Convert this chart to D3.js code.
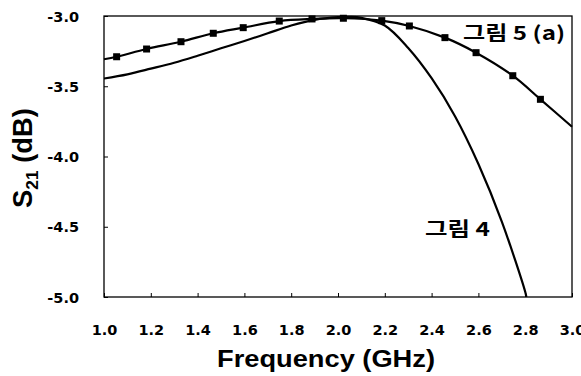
<!DOCTYPE html>
<html>
<head>
<meta charset="utf-8">
<script src="https://cdn.jsdelivr.net/npm/d3@7"></script>
<style>
  html, body { margin: 0; padding: 0; background: #fff; }
  svg { display: block; }
</style>
</head>
<body>
<svg id="chart" width="581" height="376"></svg>
<script>
// ---- data ----
const xTicks = [1.0, 1.2, 1.4, 1.6, 1.8, 2.0, 2.2, 2.4, 2.6, 2.8, 3.0];
const yTicks = [-3.0, -3.5, -4.0, -4.5, -5.0];

// 그림 5 (a): line with square markers
const fig5Freq = [1.0, 1.054, 1.182, 1.329, 1.467, 1.595, 1.749, 1.889, 2.023, 2.187, 2.305, 2.457, 2.590, 2.747, 2.865, 3.0];
const fig5S21  = [-3.308, -3.290, -3.235, -3.183, -3.123, -3.083, -3.036, -3.021, -3.016, -3.033, -3.071, -3.154, -3.261, -3.425, -3.593, -3.788];
const fig5Marked = [false, true, true, true, true, true, true, true, true, true, true, true, true, true, true, false];

// 그림 4: plain line
const fig4Freq = [1.0, 1.1, 1.2, 1.3, 1.4, 1.5, 1.6, 1.7, 1.8, 1.9, 2.0, 2.05, 2.1, 2.2, 2.3, 2.4, 2.5, 2.6, 2.7, 2.8, 2.805];
const fig4S21  = [-3.445, -3.415, -3.375, -3.333, -3.283, -3.230, -3.178, -3.123, -3.068, -3.027, -3.008, -3.006, -3.013, -3.068, -3.228, -3.443, -3.713, -4.053, -4.463, -4.963, -5.0];

const labelFig5 = "그림 5 (a)";
const labelFig4 = "그림 4";

// ---- chart ----
const svg = d3.select("#chart");
const L = 104, R = 572, T = 16, B = 297;

const x = d3.scaleLinear().domain([1, 3]).range([L, R]);
const y = d3.scaleLinear().domain([-5, -3]).range([B, T]);

const tickFont = "'DejaVu Sans', Verdana, sans-serif";
const fmt = d => d.toFixed(1);

// x axis
const gx = svg.append("g")
  .attr("transform", `translate(0,${B})`)
  .call(d3.axisBottom(x).tickValues(xTicks).tickFormat(fmt)
        .tickSizeInner(-4).tickSizeOuter(0).tickPadding(28));
gx.select(".domain").remove();
gx.selectAll(".tick line").attr("stroke", "#000").attr("stroke-width", 1);
gx.selectAll(".tick text")
  .attr("font-family", tickFont).attr("font-weight", "bold")
  .attr("font-size", 14.5).attr("fill", "#000");

// y axis
const gy = svg.append("g")
  .attr("transform", `translate(${L},0)`)
  .call(d3.axisLeft(y).tickValues(yTicks).tickFormat(fmt)
        .tickSizeInner(-4).tickSizeOuter(0).tickPadding(25));
gy.select(".domain").remove();
gy.selectAll(".tick line").attr("stroke", "#000").attr("stroke-width", 1);
gy.selectAll(".tick text")
  .attr("font-family", tickFont).attr("font-weight", "bold")
  .attr("font-size", 14.5).attr("fill", "#000")
  .attr("dy", "0.36em");

// frame
svg.append("rect")
  .attr("x", L).attr("y", T).attr("width", R - L).attr("height", B - T)
  .attr("fill", "none").attr("stroke", "#000").attr("stroke-width", 1.3);

// lines
const line = d3.line().x(d => x(d[0])).y(d => y(d[1])).curve(d3.curveCatmullRom.alpha(0.5));

const fig4 = fig4Freq.map((f, i) => [f, fig4S21[i]]);
const fig5 = fig5Freq.map((f, i) => [f, fig5S21[i]]);

svg.append("clipPath").attr("id", "plotclip")
  .append("rect").attr("x", L).attr("y", T - 2).attr("width", R - L).attr("height", B - T + 2);

svg.append("path").datum(fig4)
  .attr("d", line).attr("fill", "none").attr("stroke", "#000").attr("stroke-width", 2.2)
  .attr("clip-path", "url(#plotclip)");

svg.append("path").datum(fig5)
  .attr("d", line).attr("fill", "none").attr("stroke", "#000").attr("stroke-width", 2.2);

svg.append("g").selectAll("rect")
  .data(fig5.filter((d, i) => fig5Marked[i]))
  .join("rect")
  .attr("x", d => x(d[0]) - 3.5).attr("y", d => y(d[1]) - 3.5)
  .attr("width", 7).attr("height", 7).attr("fill", "#000");

// series labels
const krFont = "'Noto Sans CJK KR', 'Noto Sans', sans-serif";
svg.append("text")
  .attr("x", 463).attr("y", 40)
  .attr("font-family", krFont).attr("font-weight", "bold").attr("font-size", 19)
  .attr("textLength", 102).attr("lengthAdjust", "spacingAndGlyphs")
  .text(labelFig5);

svg.append("text")
  .attr("x", 425).attr("y", 236)
  .attr("font-family", krFont).attr("font-weight", "bold").attr("font-size", 19)
  .attr("textLength", 65).attr("lengthAdjust", "spacingAndGlyphs")
  .text(labelFig4);

// axis titles
const titleFont = "'Liberation Sans', Arial, sans-serif";
svg.append("text")
  .attr("x", 217).attr("y", 367)
  .attr("font-family", titleFont).attr("font-weight", "bold").attr("font-size", 23)
  .attr("textLength", 218).attr("lengthAdjust", "spacingAndGlyphs")
  .text("Frequency (GHz)");

const yt = svg.append("text")
  .attr("transform", "translate(32,208) rotate(-90)")
  .attr("font-family", titleFont).attr("font-weight", "bold").attr("font-size", 27)
  .attr("textLength", 100).attr("lengthAdjust", "spacingAndGlyphs");
yt.append("tspan").text("S");
yt.append("tspan").attr("font-size", 17).attr("dy", 6).text("21");
yt.append("tspan").attr("dy", -6).text(" (dB)");
</script>
</body>
</html>
